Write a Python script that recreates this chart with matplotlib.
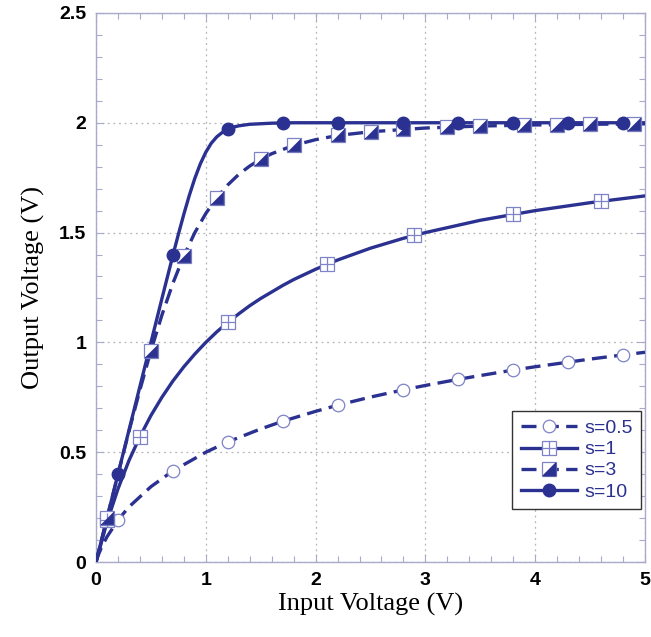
import matplotlib.pyplot as plt
from matplotlib.ticker import MultipleLocator

# curve samples (input V -> output V)
x_s05 = [0, 0.01, 0.02, 0.05, 0.1, 0.2, 0.3, 0.5, 0.7, 1.0, 1.2, 1.5, 1.7, 2.0, 2.2,
         2.5, 2.8, 3.0, 3.3, 3.5, 3.8, 4.0, 4.3, 4.5, 4.8, 5.0]
y_s05 = [0, 0.017, 0.031, 0.067, 0.115, 0.191, 0.251, 0.343, 0.415, 0.50, 0.547,
         0.606, 0.641, 0.686, 0.714, 0.751, 0.784, 0.804, 0.832, 0.849, 0.874,
         0.889, 0.910, 0.924, 0.943, 0.955]
mx_s05 = [0.2, 0.7, 1.2, 1.7, 2.2, 2.8, 3.3, 3.8, 4.3, 4.8]
my_s05 = [0.19, 0.415, 0.547, 0.641, 0.714, 0.784, 0.832, 0.874, 0.910, 0.943]

x_s1 = [0, 0.1, 0.2, 0.3, 0.4, 0.5, 0.6, 0.7, 0.8, 0.9, 1.0, 1.1, 1.2, 1.3, 1.4,
        1.5, 1.7, 1.8, 2.0, 2.2, 2.5, 2.8, 3.0, 3.5, 4.0, 4.5, 5.0]
y_s1 = [0, 0.182, 0.333, 0.462, 0.571, 0.667, 0.75, 0.824, 0.889, 0.947, 1.0,
        1.048, 1.091, 1.130, 1.167, 1.2, 1.259, 1.286, 1.333, 1.375, 1.429, 1.474,
        1.5, 1.556, 1.6, 1.636, 1.667]
mx_s1 = [0.1, 0.4, 1.2, 2.1, 2.9, 3.8, 4.6]
my_s1 = [0.19, 0.571, 1.091, 1.355, 1.487, 1.583, 1.643]

x_s3 = [0, 0.1, 0.2, 0.3, 0.4, 0.5, 0.6, 0.7, 0.8, 0.9, 1.0, 1.1, 1.2, 1.3, 1.4,
        1.5, 1.6, 1.8, 2.0, 2.2, 2.5, 3.0, 3.5, 4.0, 4.5, 5.0]
y_s3 = [0, 0.2, 0.399, 0.595, 0.784, 0.962, 1.124, 1.269, 1.394, 1.50, 1.587,
        1.659, 1.717, 1.765, 1.803, 1.834, 1.859, 1.897, 1.923, 1.942, 1.959,
        1.976, 1.985, 1.99, 1.993, 1.995]
mx_s3 = [0.1, 0.5, 0.8, 1.1, 1.5, 1.8, 2.2, 2.5, 2.8, 3.2, 3.5, 3.9, 4.2, 4.5, 4.9]
my_s3 = [0.2, 0.962, 1.394, 1.659, 1.834, 1.897, 1.942, 1.959, 1.97, 1.98, 1.985,
         1.99, 1.992, 1.993, 1.995]

x_s10 = [0, 0.2, 0.4, 0.6, 0.7, 0.75, 0.8, 0.85, 0.9, 0.95, 1.0, 1.05, 1.1, 1.15,
         1.2, 1.25, 1.3, 1.4, 1.6, 1.8, 2.0, 5.0]
y_s10 = [0, 0.4, 0.8, 1.199, 1.396, 1.492, 1.584, 1.670, 1.747, 1.813, 1.866,
         1.907, 1.936, 1.956, 1.97, 1.980, 1.986, 1.993, 1.998, 2.0, 2.0, 2.0]
mx_s10 = [0.2, 0.7, 1.2, 1.7, 2.2, 2.8, 3.3, 3.8, 4.3, 4.8]
my_s10 = [0.4, 1.396, 1.97, 2.0, 2.0, 2.0, 2.0, 2.0, 2.0, 2.0]

blue = "#2b3190"
light = "#7e82c6"
spine = "#a9a9cc"
dash = (0, (4.5, 2.2))
tri = [(-1, -1), (1, -1), (1, 1), (-1, -1)]

fig = plt.figure(figsize=(6.51, 6.37), dpi=100)
ax = fig.add_axes([0.1475, 0.1177, 0.8433, 0.862])

ax.plot(x_s05, y_s05, color=blue, lw=2.4, linestyle=dash, zorder=3)
ax.plot(mx_s05, my_s05, "o", ms=9, mfc="white", mec=light, mew=0.9, zorder=4)

ax.plot(x_s1, y_s1, color=blue, lw=2.4, zorder=3)
ax.plot(mx_s1, my_s1, "s", ms=10, mfc="white", mec=light, mew=0.9, zorder=4)
ax.plot(mx_s1, my_s1, "+", ms=10, mec=light, mew=0.9, zorder=5)

ax.plot(x_s3, y_s3, color=blue, lw=2.4, linestyle=dash, zorder=3)
ax.plot(mx_s3, my_s3, "s", ms=10, mfc="white", mec=light, mew=0.9, zorder=4)
ax.plot(mx_s3, my_s3, marker=tri, ms=9, mfc=blue, mec=blue, mew=0.5,
        linestyle="none", zorder=5)

ax.plot(x_s10, y_s10, color=blue, lw=2.4, zorder=3)
ax.plot(mx_s10, my_s10, "o", ms=9, mfc=blue, mec=blue, zorder=6)

# legend handles
l05 = plt.Line2D([], [], color=blue, lw=2.4, linestyle=dash, marker="o", ms=9,
                 mfc="white", mec=light, mew=0.9)
l1a = plt.Line2D([], [], color=blue, lw=2.4, marker="s", ms=10, mfc="white",
                 mec=light, mew=0.9)
l1b = plt.Line2D([], [], linestyle="none", marker="+", ms=10, mec=light, mew=0.9)
l3a = plt.Line2D([], [], color=blue, lw=2.4, linestyle=dash, marker="s", ms=10,
                 mfc="white", mec=light, mew=0.9)
l3b = plt.Line2D([], [], linestyle="none", marker=tri, ms=9, mfc=blue, mec=blue)
l10 = plt.Line2D([], [], color=blue, lw=2.4, marker="o", ms=9, mfc=blue, mec=blue)
leg = ax.legend([l05, (l1a, l1b), (l3a, l3b), l10],
                ["s=0.5", "s=1", "s=3", "s=10"],
                loc="lower right", bbox_to_anchor=(0.993, 0.096),
                prop={"family": "Liberation Sans", "size": 14},
                labelcolor=blue, fancybox=False, framealpha=1,
                edgecolor="#333333", handlelength=2.9, handletextpad=0.35,
                borderpad=0.45, labelspacing=0.18, borderaxespad=0)
leg.get_frame().set_linewidth(1.0)

ax.set_xlim(0, 5)
ax.set_ylim(0, 2.5)
ax.xaxis.set_major_locator(MultipleLocator(1))
ax.xaxis.set_minor_locator(MultipleLocator(0.2))
ax.yaxis.set_major_locator(MultipleLocator(0.5))
ax.yaxis.set_minor_locator(MultipleLocator(0.1))
ax.yaxis.set_major_formatter(plt.FuncFormatter(lambda v, p: f"{v:g}"))
ax.grid(True, which="major", linestyle=(0, (1.5, 3)), color="#b5b5b5", lw=0.9)
ax.tick_params(which="both", direction="in", top=True, right=True, color=spine)
ax.tick_params(which="major", length=6, width=0.8, pad=7)
ax.tick_params(which="minor", length=4, width=0.8)
for s in ax.spines.values():
    s.set_color(spine)
    s.set_linewidth(1.0)
for t in ax.get_xticklabels() + ax.get_yticklabels():
    t.set_fontfamily("Liberation Sans")
    t.set_fontweight("bold")
    t.set_fontsize(14)

ax.set_xlabel("Input Voltage (V)", family="Liberation Serif", size=19, labelpad=3)
ax.set_ylabel("Output Voltage (V)", family="Liberation Serif", size=19, labelpad=10)

fig.savefig("out.png", dpi=100)
